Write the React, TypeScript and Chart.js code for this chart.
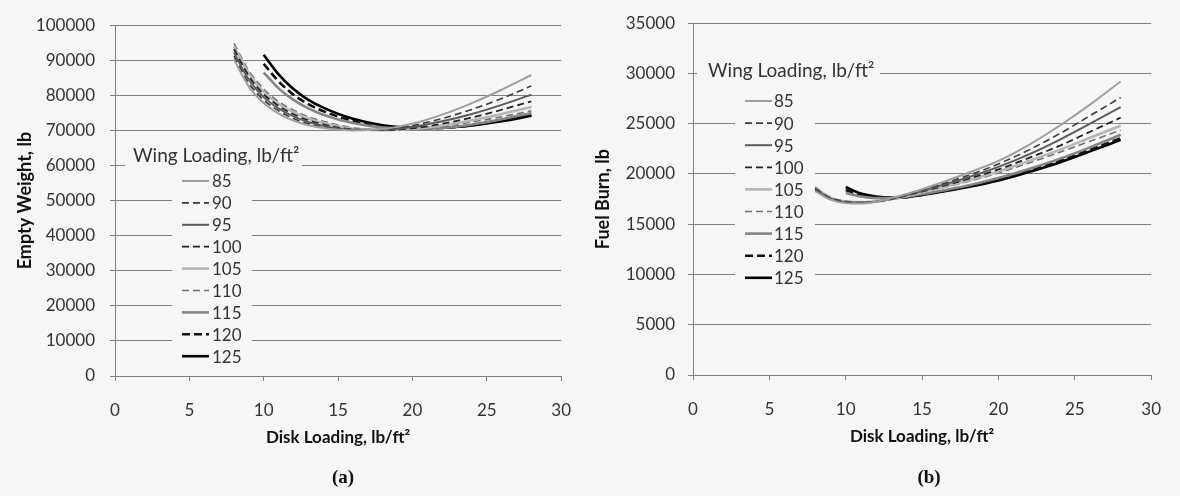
import React, { useEffect, useRef } from "react";
import { Chart, registerables } from "chart.js";

Chart.register(...registerables);

// ---------- data ----------
const WING_LOADINGS = ["85", "90", "95", "100", "105", "110", "115", "120", "125"];
const DISK_LOADING_FROM_8 = [8, 9, 10, 11, 12, 13, 14, 16, 18, 20, 22, 24, 26, 28];
const DISK_LOADING_FROM_10 = [10, 11, 12, 13, 14, 16, 18, 20, 22, 24, 26, 28];
const X_TICKS = [0, 5, 10, 15, 20, 25, 30];
const EW_TICKS = [0, 10000, 20000, 30000, 40000, 50000, 60000, 70000, 80000, 90000, 100000];
const FB_TICKS = [0, 5000, 10000, 15000, 20000, 25000, 30000, 35000];

// Empty weight, lb
const EW_85 = [90200, 82500, 77800, 74800, 72800, 71500, 70700, 70000, 70400, 71900, 74500, 77800, 81600, 85800];
const EW_90 = [91200, 83500, 78700, 75600, 73400, 71900, 71000, 70100, 70300, 71400, 73400, 76000, 79100, 82700];
const EW_95 = [92200, 84500, 79500, 76300, 74000, 72400, 71300, 70200, 70200, 71000, 72600, 74700, 77300, 80200];
const EW_100 = [93200, 85500, 80300, 77000, 74600, 72900, 71700, 70300, 70100, 70600, 71900, 73700, 75900, 78300];
const EW_105 = [94000, 86200, 81000, 77600, 75200, 73400, 72100, 70500, 70100, 70400, 71400, 72900, 74700, 76700];
const EW_110 = [94800, 87000, 81800, 78200, 75800, 73900, 72600, 70800, 70200, 70300, 71100, 72400, 73900, 75600];
const EW_115 = [86500, 82000, 78700, 76300, 74500, 72100, 70800, 70400, 70700, 71700, 73200, 75000];
const EW_120 = [89000, 84000, 80200, 77500, 75500, 72700, 71100, 70600, 70700, 71500, 72800, 74500];
const EW_125 = [91600, 86000, 81800, 78700, 76500, 73300, 71500, 70800, 70800, 71400, 72600, 74200];

// Fuel burn, lb
const FB_85 = [18300, 17450, 17100, 17050, 17250, 17600, 18000, 19000, 20100, 21300, 22900, 24800, 26900, 29200];
const FB_90 = [18400, 17500, 17150, 17100, 17250, 17550, 17950, 18850, 19850, 21000, 22400, 24000, 25800, 27600];
const FB_95 = [18500, 17550, 17200, 17150, 17250, 17550, 17900, 18750, 19650, 20700, 21950, 23400, 25000, 26650];
const FB_100 = [18550, 17600, 17250, 17150, 17250, 17500, 17850, 18650, 19500, 20450, 21600, 22800, 24200, 25600];
const FB_105 = [18600, 17650, 17250, 17200, 17250, 17500, 17800, 18550, 19350, 20250, 21300, 22400, 23600, 24800];
const FB_110 = [18700, 17700, 17300, 17200, 17250, 17500, 17800, 18500, 19250, 20100, 21100, 22150, 23250, 24350];
const FB_115 = [18100, 17750, 17600, 17600, 17750, 18250, 18850, 19600, 20500, 21500, 22650, 23900];
const FB_120 = [18400, 17900, 17650, 17600, 17700, 18200, 18750, 19450, 20350, 21300, 22400, 23550];
const FB_125 = [18700, 18050, 17750, 17650, 17700, 18150, 18700, 19350, 20200, 21150, 22250, 23400];

const SERIES_X = [
  DISK_LOADING_FROM_8, DISK_LOADING_FROM_8, DISK_LOADING_FROM_8,
  DISK_LOADING_FROM_8, DISK_LOADING_FROM_8, DISK_LOADING_FROM_8,
  DISK_LOADING_FROM_10, DISK_LOADING_FROM_10, DISK_LOADING_FROM_10,
];
const EW_SERIES = [EW_85, EW_90, EW_95, EW_100, EW_105, EW_110, EW_115, EW_120, EW_125];
const FB_SERIES = [FB_85, FB_90, FB_95, FB_100, FB_105, FB_110, FB_115, FB_120, FB_125];

// ---------- styles ----------
const PAGE_BG = "#f6f6f6";
const GRID = "#808080";
const TICK_TEXT = "#333333";
const FONT = "Lato";
const SERIES_COLORS = ["#9e9e9e", "#3a3a3a", "#5c5c5c", "#242424", "#b6b6b6", "#707070", "#858585", "#111111", "#000000"];
const SERIES_DASHES = [[], [7, 4], [], [7, 4], [], [7, 4], [], [8, 4], []];
const SERIES_WIDTHS = [2, 1.6, 2, 1.8, 2.6, 1.6, 2.6, 2.6, 2.6];

const legendPlugin = {
  id: "wlLegend",
  beforeDatasetsDraw(chart: any, _a: any, o: any) {
    const ctx = chart.ctx;
    ctx.save();
    ctx.fillStyle = PAGE_BG;
    const [a, b, c, d] = o.titleBg;
    ctx.fillRect(a, b, c - a, d - b);
    const [e, f, g, h] = o.entriesBg;
    ctx.fillRect(e, f, g - e, h - f);
    ctx.restore();
  },
  afterDraw(chart: any, _a: any, o: any) {
    const ctx = chart.ctx;
    ctx.save();
    ctx.fillStyle = TICK_TEXT;
    ctx.textBaseline = "middle";
    ctx.textAlign = "left";
    ctx.font = `19px ${FONT}`;
    ctx.fillText("Wing Loading, lb/ft\u00B2", o.titleX, o.titleY);
    ctx.font = `17px ${FONT}`;
    chart.data.datasets.forEach((ds: any, i: number) => {
      const y = o.firstY + i * o.step;
      ctx.save();
      ctx.strokeStyle = ds.borderColor;
      ctx.lineWidth = ds.borderWidth;
      ctx.setLineDash(ds.borderDash || []);
      ctx.beginPath();
      ctx.moveTo(o.sampleX0, y);
      ctx.lineTo(o.sampleX1, y);
      ctx.stroke();
      ctx.restore();
      ctx.fillText(ds.label, o.textX, y + 1);
    });
    ctx.restore();
  },
};

function buildConfig(p: any) {
  return {
    type: "line",
    data: {
      datasets: WING_LOADINGS.map((wl, i) => ({
        label: wl,
        data: SERIES_X[i].map((x, j) => ({ x, y: p.series[i][j] })),
        borderColor: SERIES_COLORS[i],
        borderDash: SERIES_DASHES[i],
        borderWidth: SERIES_WIDTHS[i],
        pointRadius: 0,
        fill: false,
        cubicInterpolationMode: "monotone",
      })),
    },
    options: {
      responsive: false,
      animation: false,
      events: [],
      layout: { padding: { left: 0, top: p.padTop, right: p.padRight, bottom: p.padBottom } },
      plugins: { legend: { display: false }, tooltip: { enabled: false }, wlLegend: p.legend },
      scales: {
        x: {
          type: "linear",
          min: 0,
          max: 30,
          afterBuildTicks: (s: any) => { s.ticks = X_TICKS.map((v) => ({ value: v })); },
          afterFit: (s: any) => { s.height = p.xHeight; },
          grid: { drawOnChartArea: false, drawTicks: true, tickLength: 5, color: GRID },
          border: { display: true, color: GRID, width: 1 },
          ticks: { padding: 19, color: TICK_TEXT, font: { family: FONT, size: 17 }, maxRotation: 0 },
          title: {
            display: true,
            text: "Disk Loading, lb/ft\u00B2",
            color: "#111",
            font: { family: FONT, size: 17, weight: "bold" },
            padding: { top: 0, bottom: 0 },
          },
        },
        y: {
          type: "linear",
          min: 0,
          max: p.yMax,
          afterBuildTicks: (s: any) => { s.ticks = p.yTicks.map((v: number) => ({ value: v })); },
          afterFit: (s: any) => { s.width = p.yWidth; },
          grid: { drawOnChartArea: true, drawTicks: true, tickLength: 5, color: GRID, lineWidth: 1 },
          border: { display: true, color: GRID, width: 1 },
          ticks: {
            padding: p.yTickPad,
            color: TICK_TEXT,
            font: { family: FONT, size: 17 },
            callback: (v: any) => String(v),
          },
          title: {
            display: true,
            text: p.yTitle,
            color: "#111",
            font: { family: FONT, size: 18, weight: "bold" },
            padding: { top: p.yTitlePad, bottom: 0 },
          },
        },
      },
    },
    plugins: [legendPlugin],
  };
}

function Panel({ config, left }: { config: any; left: number }) {
  const ref = useRef<HTMLCanvasElement>(null);
  useEffect(() => {
    const chart = new Chart(ref.current as HTMLCanvasElement, config);
    return () => chart.destroy();
  }, []);
  return (
    <canvas
      ref={ref}
      width={590}
      height={496}
      style={{ position: "absolute", left, top: 0, width: 590, height: 496 }}
    />
  );
}

const leftConfig = buildConfig({
  series: EW_SERIES,
  yMax: 100000,
  yTicks: EW_TICKS,
  yTitle: "Empty Weight, lb",
  yWidth: 115,
  yTickPad: 15,
  yTitlePad: 14,
  padTop: 18,
  padRight: 18,
  xHeight: 72,
  padBottom: 48,
  legend: {
    titleX: 133, titleY: 156,
    sampleX0: 182, sampleX1: 209, textX: 212,
    firstY: 181, step: 21.9,
    titleBg: [125, 145, 302, 169],
    entriesBg: [172, 170, 252, 368],
  },
});

const rightConfig = buildConfig({
  series: FB_SERIES,
  yMax: 35000,
  yTicks: FB_TICKS,
  yTitle: "Fuel Burn, lb",
  yWidth: 103,
  yTickPad: 13,
  yTitlePad: 2,
  padTop: 13,
  padRight: 15,
  xHeight: 72,
  padBottom: 49,
  legend: {
    titleX: 118, titleY: 71,
    sampleX0: 155, sampleX1: 182, textX: 184,
    firstY: 101, step: 22.1,
    titleBg: [107, 58, 290, 83],
    entriesBg: [145, 84, 225, 290],
  },
});

const captionStyle: any = {
  position: "absolute",
  top: 466,
  width: 60,
  textAlign: "center",
  fontFamily: "'Liberation Serif', 'Times New Roman', serif",
  fontWeight: "bold",
  fontSize: 19,
  color: "#111",
};

export default function App() {
  return (
    <div
      style={{
        position: "fixed",
        left: 0,
        top: 0,
        width: 1180,
        height: 496,
        background: PAGE_BG,
        overflow: "hidden",
      }}
    >
      <Panel config={leftConfig} left={0} />
      <Panel config={rightConfig} left={590} />
      <div style={{ ...captionStyle, left: 343 - 30 }}>(a)</div>
      <div style={{ ...captionStyle, left: 929 - 30 }}>(b)</div>
    </div>
  );
}
